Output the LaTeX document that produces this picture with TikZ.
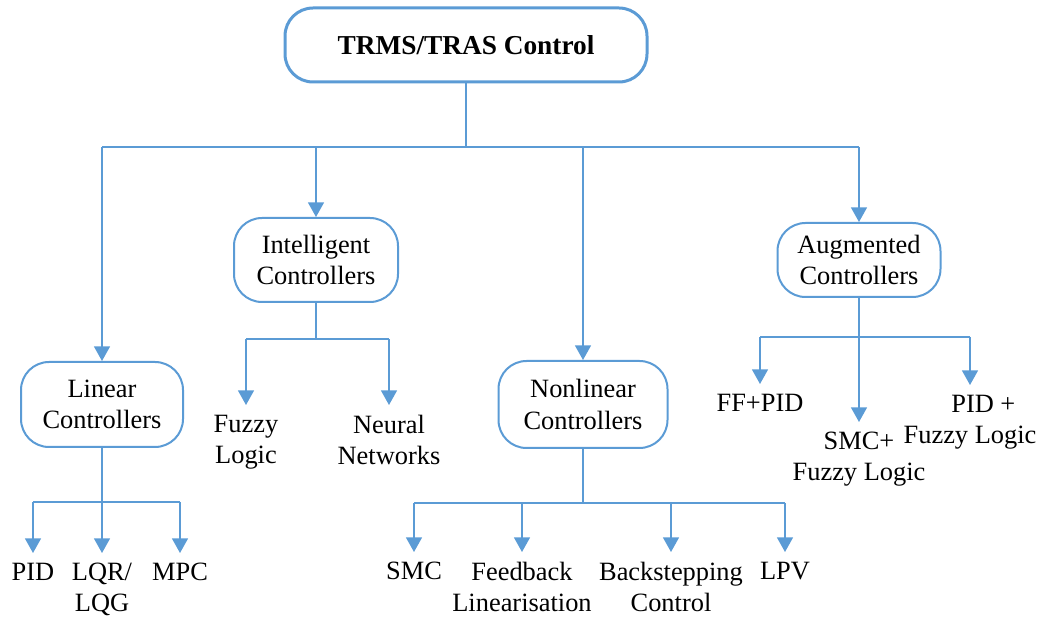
\documentclass[tikz,border=0pt]{standalone}
\usepackage{fontspec}
\setmainfont{Liberation Serif}
\usetikzlibrary{arrows.meta}
\definecolor{lineblue}{HTML}{5B9BD5}
\begin{document}
\begin{tikzpicture}[x=0.75pt,y=-0.75pt,
  txt/.style={font=\fontsize{19.8}{23.3}\selectfont},
  box/.style={txt, draw=lineblue, line width=1.5pt, rounded corners=21pt, align=center, inner sep=0pt},
  lbl/.style={txt, align=center, inner xsep=0pt, inner ysep=7.5pt, anchor=north},
  conn/.style={draw=lineblue, line width=1.2pt},
  arr/.style={conn, -{Triangle[width=12pt,length=11pt]}}]
\useasboundingbox (0,0) rectangle (1040,620);

% main boxes
\node[box, line width=2.25pt, minimum width=271.5pt, minimum height=55.5pt,
      font=\bfseries\fontsize{20.5}{24}\selectfont] (top) at (466,45) {TRMS/TRAS Control};
\node[box, minimum width=121.5pt, minimum height=63.75pt] (lin) at (102,404.5) {Linear\\Controllers};
\node[box, minimum width=123pt, minimum height=63pt] (int) at (316,260) {Intelligent\\Controllers};
\node[box, minimum width=126.75pt, minimum height=65.25pt] (non) at (583,404.5) {Nonlinear\\Controllers};
\node[box, minimum width=122.25pt, minimum height=55.5pt] (aug) at (859,260) {Augmented\\Controllers};

% top level bus
\coordinate (bus) at (466,147);
\draw[conn] (top.south) -- (bus);
\draw[conn] (lin.north |- bus) -- (aug.north |- bus);
\draw[arr] (lin.north |- bus) -- (lin.north);
\draw[arr] (int.north |- bus) -- (int.north);
\draw[arr] (non.north |- bus) -- (non.north);
\draw[arr] (aug.north |- bus) -- (aug.north);

% linear
\coordinate (lbus) at (102,502);
\node[lbl] (pid) at (33,553) {PID};
\node[lbl] (lqr) at (102,553) {LQR/\\LQG};
\node[lbl] (mpc) at (180,553) {MPC};
\draw[conn] (lin.south) -- (lbus);
\draw[conn] (pid.north |- lbus) -- (mpc.north |- lbus);
\draw[arr] (pid.north |- lbus) -- (pid.north);
\draw[arr] (lqr.north |- lbus) -- (lqr.north);
\draw[arr] (mpc.north |- lbus) -- (mpc.north);

% intelligent
\coordinate (ibus) at (316,339);
\node[lbl] (fuz) at (246,405) {Fuzzy\\Logic};
\node[lbl] (neu) at (389,405) {Neural\\Networks};
\draw[conn] (int.south) -- (ibus);
\draw[conn] (fuz.north |- ibus) -- (neu.north |- ibus);
\draw[arr] (fuz.north |- ibus) -- (fuz.north);
\draw[arr] (neu.north |- ibus) -- (neu.north);

% nonlinear
\coordinate (nbus) at (583,503);
\node[lbl] (smc) at (414,552) {SMC};
\node[lbl] (fbl) at (522,552) {Feedback\\Linearisation};
\node[lbl] (bsc) at (671,552) {Backstepping\\Control};
\node[lbl] (lpv) at (785,552) {LPV};
\draw[conn] (non.south) -- (nbus);
\draw[conn] (smc.north |- nbus) -- (lpv.north |- nbus);
\draw[arr] (smc.north |- nbus) -- (smc.north);
\draw[arr] (fbl.north |- nbus) -- (fbl.north);
\draw[arr] (bsc.north |- nbus) -- (bsc.north);
\draw[arr] (lpv.north |- nbus) -- (lpv.north);

% augmented
\coordinate (abus) at (859,337);
\node[lbl] (ffp) at (760,384) {FF+PID};
\node[lbl] (smf) at (859,422) {SMC+\\Fuzzy Logic};
\node[lbl] (pif) at (970,385) {\hspace*{20pt}PID +\\Fuzzy Logic};
\draw[conn] (aug.south) -- (abus);
\draw[conn] (ffp.north |- abus) -- (pif.north |- abus);
\draw[arr] (ffp.north |- abus) -- (ffp.north);
\draw[arr] (abus) -- (smf.north);
\draw[arr] (pif.north |- abus) -- (pif.north);
\end{tikzpicture}
\end{document}
